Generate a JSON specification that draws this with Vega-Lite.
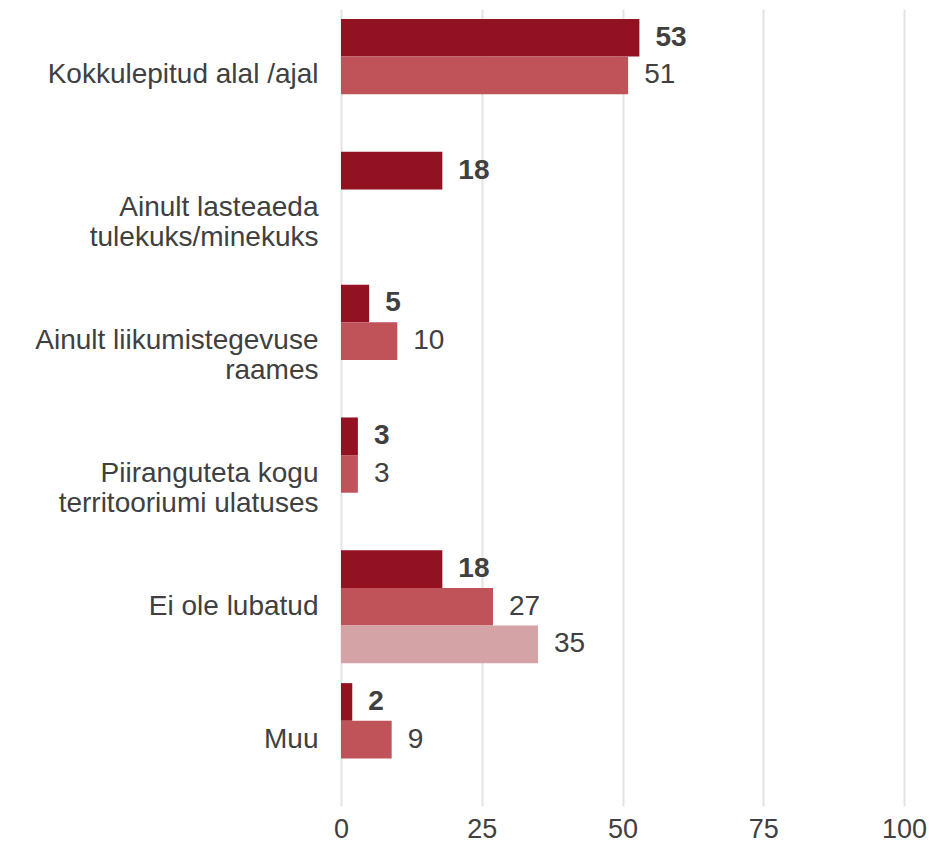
{
  "$schema": "https://vega.github.io/schema/vega-lite/v6.json",
  "width": 563,
  "height": 797,
  "autosize": {"type": "none"},
  "padding": {"left": 341, "top": 9, "right": 25, "bottom": 40},
  "background": "white",
  "config": {"view": {"stroke": null}, "font": "Liberation Sans"},
  "data": {
    "values": [
      {"category": "Kokkulepitud alal /ajal", "series": "s1", "value": 53},
      {"category": "Kokkulepitud alal /ajal", "series": "s2", "value": 51},
      {"category": "Ainult lasteaeda\ntulekuks/minekuks", "series": "s1", "value": 18},
      {"category": "Ainult liikumistegevuse\nraames", "series": "s1", "value": 5},
      {"category": "Ainult liikumistegevuse\nraames", "series": "s2", "value": 10},
      {"category": "Piiranguteta kogu\nterritooriumi ulatuses", "series": "s1", "value": 3},
      {"category": "Piiranguteta kogu\nterritooriumi ulatuses", "series": "s2", "value": 3},
      {"category": "Ei ole lubatud", "series": "s1", "value": 18},
      {"category": "Ei ole lubatud", "series": "s2", "value": 27},
      {"category": "Ei ole lubatud", "series": "s3", "value": 35},
      {"category": "Muu", "series": "s1", "value": 2},
      {"category": "Muu", "series": "s2", "value": 9}
    ]
  },
  "encoding": {
    "y": {
      "field": "category",
      "type": "nominal",
      "sort": null,
      "scale": {"paddingInner": 0.15, "paddingOuter": 0.075},
      "axis": {
        "title": null,
        "domain": false,
        "ticks": false,
        "grid": false,
        "labelPadding": 23,
        "labelFontSize": 28,
        "labelColor": "#404040",
        "labelFont": "Liberation Sans",
        "labelLineHeight": 30,
        "labelAlign": "right",
        "labelBaseline": "middle",
        "labelLimit": 400,
        "labelExpr": "split(datum.label, '\\n')"
      }
    },
    "yOffset": {
      "field": "series",
      "type": "nominal",
      "scale": {"domain": ["s1", "s2", "s3"], "paddingInner": 0, "paddingOuter": 0}
    },
    "x": {
      "field": "value",
      "type": "quantitative",
      "scale": {"domain": [0, 100], "nice": false},
      "axis": {
        "title": null,
        "domain": false,
        "ticks": false,
        "values": [0, 25, 50, 75, 100],
        "grid": true,
        "gridColor": "#e3e3e3",
        "gridWidth": 2,
        "labelPadding": 10,
        "labelFontSize": 27,
        "labelColor": "#404040",
        "labelFont": "Liberation Sans",
        "labelFlush": false
      }
    }
  },
  "layer": [
    {
      "mark": {"type": "bar"},
      "encoding": {
        "color": {
          "field": "series",
          "type": "nominal",
          "scale": {"domain": ["s1", "s2", "s3"], "range": ["#931222", "#c0535a", "#d4a3a6"]},
          "legend": null
        }
      }
    },
    {
      "transform": [{"filter": "datum.series == 's1'"}],
      "mark": {"type": "text", "align": "left", "baseline": "middle", "dx": 16, "fontSize": 28, "fontWeight": "bold", "color": "#404040", "font": "Liberation Sans"},
      "encoding": {"text": {"field": "value", "type": "quantitative"}}
    },
    {
      "transform": [{"filter": "datum.series != 's1'"}],
      "mark": {"type": "text", "align": "left", "baseline": "middle", "dx": 16, "fontSize": 28, "fontWeight": "normal", "color": "#404040", "font": "Liberation Sans"},
      "encoding": {"text": {"field": "value", "type": "quantitative"}}
    }
  ]
}
